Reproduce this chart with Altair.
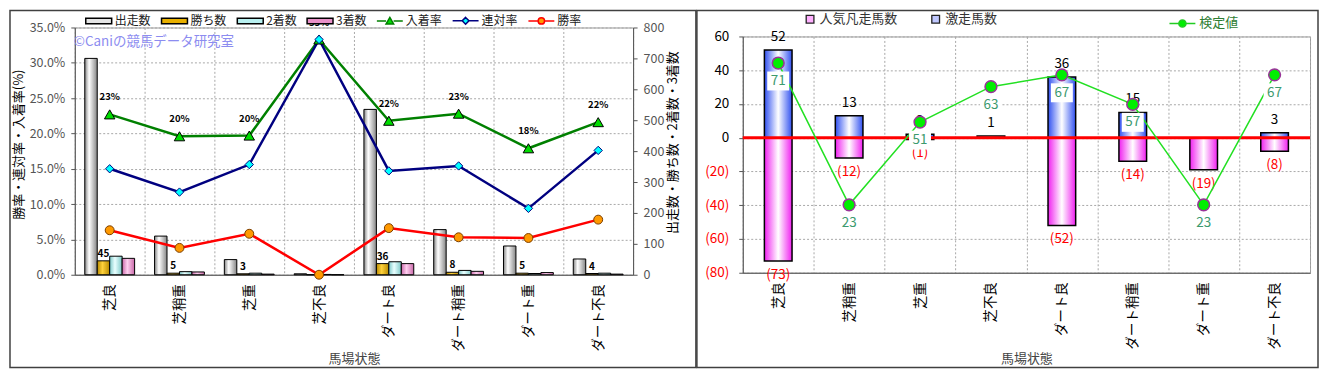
import altair as alt
import pandas as pd

FONT = "Noto Sans CJK JP"

# ---------------- data ----------------
categories = ["芝良", "芝稍重", "芝重", "芝不良", "ダート良", "ダート稍重", "ダート重", "ダート不良"]

# left panel (counts, right axis)
runs = [700, 125, 49, 3, 535, 146, 93, 51]          # 出走数
wins = [45, 5, 3, 0, 36, 8, 5, 4]                    # 勝ち数
seconds = [60, 10, 5, 1, 42, 14, 4, 5]               # 2着数
thirds = [53, 9, 2, 0, 36, 11, 7, 2]                 # 3着数
# left panel (rates, left axis)
place_rate = [0.227, 0.196, 0.197, 0.333, 0.218, 0.228, 0.179, 0.216]   # 入着率
quinella_rate = [0.150, 0.117, 0.156, 0.333, 0.147, 0.154, 0.094, 0.176]  # 連対率
win_rate = [0.063, 0.038, 0.058, 0.000, 0.066, 0.053, 0.052, 0.078]    # 勝率

# right panel
upset_counts = [52, 13, 2, 1, 36, 15, 0, 3]            # 激走馬数
flop_counts = [-73, -12, -1, 0, -52, -14, -19, -8]     # 人気凡走馬数
test_values = [71, 23, 51, 63, 67, 57, 23, 67]         # 検定値

bar_series = ["出走数", "勝ち数", "2着数", "3着数"]
line_series = ["入着率", "連対率", "勝率"]

# ---------------- tables ----------------
bar_df = pd.DataFrame([
    {"cat": c, "series": s, "value": v}
    for s, vals in zip(bar_series, [runs, wins, seconds, thirds])
    for c, v in zip(categories, vals)
])
line_df = pd.DataFrame([
    {"cat": c, "series": s, "rate": v}
    for s, vals in zip(line_series, [place_rate, quinella_rate, win_rate])
    for c, v in zip(categories, vals)
])
rbar_df = pd.DataFrame(
    [{"cat": c, "series": "激走馬数", "value": v} for c, v in zip(categories, upset_counts)]
    + [{"cat": c, "series": "人気凡走馬数", "value": v} for c, v in zip(categories, flop_counts)]
)
test_df = pd.DataFrame({"cat": categories, "test": test_values})
one = pd.DataFrame({"value": [0]})


def hgrad(edge, mid, pos=0.42):
    return alt.LinearGradient(
        gradient="linear", x1=0, x2=1, y1=0, y2=0,
        stops=[alt.GradientStop(offset=0, color=edge),
               alt.GradientStop(offset=pos, color=mid),
               alt.GradientStop(offset=1, color=edge)])


GRID = "#a8a8a8"


def x_enc(title_y):
    return alt.X(
        "cat:N", sort=categories,
        scale=alt.Scale(paddingInner=0, paddingOuter=0),
        axis=alt.Axis(title="馬場状態", labelAngle=270, labelAlign="right", labelBaseline="middle",
                      tickBand="extent", grid=True, gridDash=[2, 2], gridColor=GRID, ticks=False,
                      labelFontSize=13.5, labelColor="#000", labelPadding=9, labelFont=FONT,
                      titleFont=FONT, titleFontSize=13, titleFontWeight="normal", titleColor="#444",
                      titleY=title_y, titleBaseline="middle", domainColor="#555"))


# ================= LEFT PANEL =================
xl = x_enc(84)
xo = alt.XOffset("series:N", scale=alt.Scale(domain=bar_series, paddingInner=0, paddingOuter=0.8))
y_cnt = alt.Y("value:Q", scale=alt.Scale(domain=[0, 800], nice=False),
              axis=alt.Axis(orient="right", values=list(range(0, 801, 100)),
                            title="出走数・勝ち数・2着数・3着数", titleAngle=270, titleX=40, titleY=115,
                            titleAlign="center", titleBaseline="middle", titleFontSize=13,
                            titleFontWeight="normal", titleColor="#000", titleFont=FONT,
                            labelFontSize=12.5, labelColor="#555", labelPadding=6, tickSize=4,
                            grid=False, domainColor="#555", tickColor="#555"))
y_rate = alt.Y("rate:Q", scale=alt.Scale(domain=[0, 0.35], nice=False),
               axis=alt.Axis(orient="left", values=[0, 0.05, 0.1, 0.15, 0.2, 0.25, 0.3, 0.35],
                             format=".1%", title="勝率・連対率・入着率(%)", titleAngle=270,
                             titleX=-56.5, titleY=117, titleAlign="center", titleBaseline="middle",
                             titleFontSize=13, titleFontWeight="normal", titleColor="#000",
                             titleFont=FONT, labelFontSize=12.5, labelColor="#555", labelPadding=6,
                             tickSize=4, grid=True, gridDash=[2, 2], gridColor=GRID,
                             domainColor="#555", tickColor="#555"))

bar_fills = {
    "出走数": hgrad("#858585", "#ffffff", 0.35),
    "勝ち数": hgrad("#b88a00", "#ffd23c"),
    "2着数": hgrad("#7cc8c8", "#eaffff"),
    "3着数": hgrad("#c868a8", "#ffd0f0"),
}
bar_layers = [
    alt.Chart(bar_df).transform_filter(alt.datum.series == s)
    .mark_bar(fill=bar_fills[s], stroke="#000", strokeWidth=1)
    .encode(x=xl, xOffset=xo, y=y_cnt)
    for s in bar_series
]
wins_text = (alt.Chart(bar_df)
             .transform_filter("datum.series == '勝ち数' && datum.value > 0")
             .mark_text(dy=-7, fontSize=10, fontWeight="bold", color="#000")
             .encode(x=xl, xOffset=xo, y=y_cnt, text="value:Q"))
bars_group = alt.layer(*bar_layers, wins_text)

line_colors = {"入着率": "#008000", "連対率": "#000080", "勝率": "#ff0000"}
line_layers = [
    alt.Chart(line_df).transform_filter(alt.datum.series == s)
    .mark_line(color=line_colors[s], strokeWidth=2.5)
    .encode(x=xl, y=y_rate)
    for s in line_series
]
pt_style = {
    "入着率": dict(shape="triangle-up", fill="#00dd00", stroke="#000", size=110),
    "連対率": dict(shape="diamond", fill="#00ffff", stroke="#000080", size=70),
    "勝率": dict(shape="circle", fill="#ff9900", stroke="#7a3d00", size=80),
}
point_layers = [
    alt.Chart(line_df).transform_filter(alt.datum.series == s)
    .mark_point(filled=True, opacity=1, strokeWidth=1, **pt_style[s])
    .encode(x=xl, y=y_rate)
    for s in line_series
]
place_text = (alt.Chart(line_df).transform_filter(alt.datum.series == "入着率")
              .mark_text(dy=-17, fontSize=9.5, fontWeight="bold", color="#000")
              .encode(x=xl, y=y_rate, text=alt.Text("rate:Q", format=".0%")))

legend_names = bar_series + line_series
legend_df = pd.DataFrame({"name": legend_names})
bar_icon = "M-1.3,-0.28H1.3V0.28H-1.3Z"
tri_icon = "M-1.3,0H-0.38M0.38,0H1.3M0,-0.36L0.38,0.3H-0.38Z"
dia_icon = "M-1.3,0H-0.34M0.34,0H1.3M0,-0.34L0.34,0L0,0.34L-0.34,0Z"
cir_icon = "M-1.3,0H-0.32M0.32,0H1.3M-0.32,0A0.32,0.32 0 1,0 0.32,0A0.32,0.32 0 1,0 -0.32,0Z"
left_legend = alt.Legend(orient="none", legendX=13, legendY=-18, direction="horizontal", title=None,
                         symbolSize=400, symbolStrokeWidth=1.5, symbolOpacity=1,
                         labelFontSize=12, labelColor="#222", labelFont=FONT, labelOffset=5,
                         columnPadding=7)
legend_dummy = alt.Chart(legend_df).mark_point(filled=True, opacity=0).encode(
    fill=alt.Fill("name:N", sort=legend_names,
                  scale=alt.Scale(domain=legend_names,
                                  range=["#e4e4e4", "#e8b000", "#b8f0f0", "#e890c8",
                                         "#00dd00", "#00ffff", "#ff9900"]),
                  legend=left_legend),
    stroke=alt.Stroke("name:N", sort=legend_names,
                      scale=alt.Scale(domain=legend_names,
                                      range=["#000", "#000", "#000", "#000",
                                             "#008000", "#000080", "#ff0000"]),
                      legend=left_legend),
    shape=alt.Shape("name:N", sort=legend_names,
                    scale=alt.Scale(domain=legend_names,
                                    range=[bar_icon, bar_icon, bar_icon, bar_icon,
                                           tri_icon, dia_icon, cir_icon]),
                    legend=left_legend),
)

watermark = alt.Chart(pd.DataFrame({"t": ["©Caniの競馬データ研究室"]})).mark_text(
    align="left", baseline="middle", fontSize=13.5, color="#8c8cf0"
).encode(x=alt.value(-1), y=alt.value(15), text="t:N")

left_frame = alt.Chart(one).mark_rect(fill="transparent", stroke="#404040", strokeWidth=1.5).encode(
    x=alt.value(-65), x2=alt.value(623), y=alt.value(-17), y2=alt.value(341))

lines_group = alt.layer(*line_layers, *point_layers, place_text, legend_dummy, watermark, left_frame)

left = alt.layer(bars_group, lines_group).resolve_scale(y="independent").properties(width=560, height=248)

# ================= RIGHT PANEL =================
xr = x_enc(86)
y_r = alt.Y("value:Q", scale=alt.Scale(domain=[-80, 60], nice=False),
            axis=alt.Axis(values=list(range(-80, 61, 20)),
                          labelExpr="datum.value < 0 ? '(' + abs(datum.value) + ')' : datum.label",
                          labelColor={"condition": {"test": "datum.value < 0", "value": "#ff0000"},
                                      "value": "#000000"},
                          labelFontSize=13.5, labelPadding=10, tickSize=4, title=None,
                          grid=True, gridDash=[2, 2], gridColor=GRID,
                          domainColor="#555", tickColor="#555"))

upset_bars = (alt.Chart(rbar_df)
              .transform_filter("datum.series == '激走馬数' && datum.value != 0")
              .mark_bar(width=alt.RelativeBandSize(band=0.39), fill=hgrad("#3050f0", "#ffffff", 0.5),
                        stroke="#000", strokeWidth=1.5)
              .encode(x=xr, y=y_r))
flop_bars = (alt.Chart(rbar_df)
             .transform_filter("datum.series == '人気凡走馬数' && datum.value != 0")
             .mark_bar(width=alt.RelativeBandSize(band=0.39), fill=hgrad("#f020f0", "#ffffff", 0.5),
                       stroke="#000", strokeWidth=1.5)
             .encode(x=xr, y=y_r))
zero_rule = alt.Chart(one).mark_rule(color="#ff0000", strokeWidth=3).encode(y=y_r)
pos_text = (alt.Chart(rbar_df)
            .transform_filter("datum.series == '激走馬数' && datum.value > 0")
            .mark_text(dy=-13, fontSize=13.5, color="#000")
            .encode(x=xr, y=y_r, text="value:Q"))
neg_text = (alt.Chart(rbar_df)
            .transform_filter("datum.series == '人気凡走馬数' && datum.value < 0")
            .transform_calculate(lab="'(' + abs(datum.value) + ')'")
            .mark_text(dy=14, fontSize=13.5, color="#ff0000")
            .encode(x=xr, y=y_r, text="lab:N"))
rbars_group = alt.layer(upset_bars, flop_bars, zero_rule, pos_text, neg_text)

y_t = alt.Y("test:Q", scale=alt.Scale(domain=[0, 80], nice=False), axis=None)
box_icon = "M-1.1,-0.95H1.1V0.95H-1.1Z"
test_line = alt.Chart(test_df).mark_line(color="#22e022", strokeWidth=1.5).encode(x=xr, y=y_t)
test_box = alt.Chart(test_df).mark_point(shape=box_icon, filled=True, fill="#ffffff", opacity=1,
                                         strokeWidth=0, size=400, yOffset=18).encode(x=xr, y=y_t)
test_text = alt.Chart(test_df).mark_text(dy=18, fontSize=13.5, color="#3c9a6e").encode(
    x=xr, y=y_t, text="test:Q")
test_pts = alt.Chart(test_df).mark_point(shape="circle", filled=True, fill="#00ee00", stroke="#993399",
                                         strokeWidth=1.5, size=140, opacity=1).encode(x=xr, y=y_t)

rlegA = alt.Chart(pd.DataFrame({"name": ["人気凡走馬数", "激走馬数"]})).mark_square(opacity=0).encode(
    fill=alt.Fill("name:N", sort=["人気凡走馬数", "激走馬数"],
                  scale=alt.Scale(domain=["人気凡走馬数", "激走馬数"], range=["#ffb0ff", "#c0c8ff"]),
                  legend=alt.Legend(orient="none", legendX=61, legendY=-24, direction="horizontal",
                                    title=None, symbolType="square", symbolSize=60,
                                    symbolStrokeColor="#222", symbolStrokeWidth=1.3, symbolOpacity=1,
                                    labelFontSize=13, labelColor="#333", labelFont=FONT,
                                    labelOffset=3, columnPadding=31)))
line_circle_icon = "M-1.3,0H-0.36M0.36,0H1.3M-0.36,0A0.36,0.36 0 1,0 0.36,0A0.36,0.36 0 1,0 -0.36,0Z"
rlegB = alt.Chart(pd.DataFrame({"name2": ["検定値"]})).mark_point(filled=True, opacity=0).encode(
    color=alt.Color("name2:N", scale=alt.Scale(domain=["検定値"], range=["#00ee00"]),
                    legend=alt.Legend(orient="none", legendX=430, legendY=-24, title=None,
                                      symbolType=line_circle_icon, symbolSize=400,
                                      symbolStrokeColor="#22cc22", symbolStrokeWidth=1.5,
                                      symbolOpacity=1, labelFontSize=13, labelColor="#2e7d32",
                                      labelFont=FONT, labelOffset=6)))

right_frame = alt.Chart(one).mark_rect(fill="transparent", stroke="#404040", strokeWidth=1.5).encode(
    x=alt.value(-46), x2=alt.value(577), y=alt.value(-26), y2=alt.value(332))

test_group = alt.layer(test_line, test_box, test_text, test_pts, rlegA, rlegB, right_frame)

right = alt.layer(rbars_group, test_group).resolve_scale(y="independent").properties(width=569, height=237)

spacer = alt.Chart(one).mark_point(opacity=0).encode(x=alt.value(0), y=alt.value(0)).properties(
    width=569, height=1, view=alt.ViewBackground(fill="transparent", stroke="transparent"))

right_col = alt.vconcat(spacer, right, spacing=8, bounds="flush").resolve_scale(
    fill="independent", stroke="independent", shape="independent", color="independent")

chart = (alt.hconcat(left, right_col, spacing=110, bounds="flush")
         .resolve_scale(fill="independent", stroke="independent", shape="independent",
                        color="independent")
         .properties(padding=0)
         .configure(font=FONT, background="#ffffff")
         .configure_view(fill="#f7ecd4", stroke="#9a9a9a", strokeWidth=1))

chart.save("out.html", embed_options={"renderer": "svg", "actions": False})
